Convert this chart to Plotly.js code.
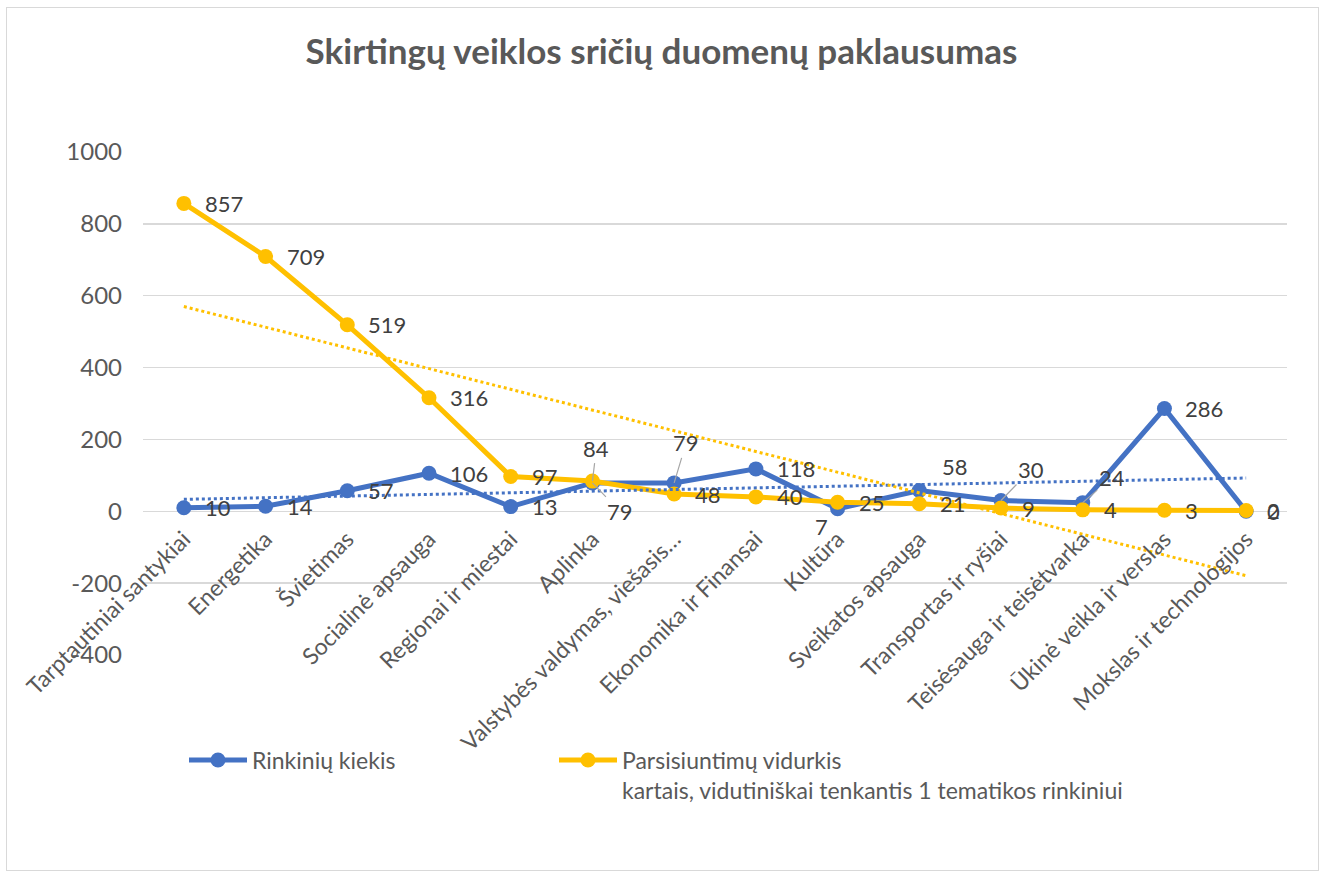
<!DOCTYPE html>
<html>
<head>
<meta charset="utf-8">
<script src="https://cdn.plot.ly/plotly-3.0.1.min.js"></script>
<style>
  html, body { margin: 0; padding: 0; background: #ffffff; }
  #wrap { position: relative; width: 1323px; height: 877px; }
  #chart { width: 1323px; height: 877px; }
  #frame { position: absolute; left: 6px; top: 7px; width: 1311px; height: 862px;
           border: 1px solid #d9d9d9; pointer-events: none; }
</style>
</head>
<body>
<div id="wrap"><div id="chart"></div><div id="frame"></div></div>
<script>
// ---- Data ----
const categories = [
  "Tarptautiniai santykiai", "Energetika", "Švietimas", "Socialinė apsauga",
  "Regionai ir miestai", "Aplinka", "Valstybės valdymas, viešasis…",
  "Ekonomika ir Finansai", "Kultūra", "Sveikatos apsauga",
  "Transportas ir ryšiai", "Teisėsauga ir teisėtvarka",
  "Ūkinė veikla ir verslas", "Mokslas ir technologijos"
];
const rinkiniuKiekis = [10, 14, 57, 106, 13, 79, 79, 118, 7, 58, 30, 24, 286, 0];
const parsisiuntimuVidurkis = [857, 709, 519, 316, 97, 84, 48, 40, 25, 21, 9, 4, 3, 2];
const yTickValues = [-400, -200, 0, 200, 400, 600, 800, 1000];

const seriesNames = [
  "Rinkinių kiekis",
  "Parsisiuntimų vidurkis<br>kartais, vidutiniškai tenkantis 1 tematikos rinkiniui"
];

// ---- Styles ----
const BLUE = "#4472C4", YELLOW = "#FFC000", TXT = "#595959", LBL = "#404040", GRID = "#d9d9d9";
const FONT = "Lato, 'Open Sans', sans-serif";

// Linear trend (least squares over category index)
function trend(vals) {
  const n = vals.length;
  let sx = 0, sy = 0, sxy = 0, sxx = 0;
  vals.forEach((v, i) => { sx += i; sy += v; sxy += i * v; sxx += i * i; });
  const b = (n * sxy - sx * sy) / (n * sxx - sx * sx);
  const a = (sy - b * sx) / n;
  return vals.map((_, i) => a + b * i);
}

const traces = [
  { x: categories, y: rinkiniuKiekis, name: seriesNames[0], type: "scatter", mode: "lines+markers",
    line: { color: BLUE, width: 5 }, marker: { color: BLUE, size: 15 }, cliponaxis: false,
    legend: "legend" },
  { x: categories, y: parsisiuntimuVidurkis, name: seriesNames[1], type: "scatter", mode: "lines+markers",
    line: { color: YELLOW, width: 5 }, marker: { color: YELLOW, size: 15 }, cliponaxis: false,
    legend: "legend2" },
  { x: categories, y: trend(rinkiniuKiekis), type: "scatter", mode: "lines", showlegend: false,
    line: { color: BLUE, width: 3, dash: "dot" }, hoverinfo: "skip" },
  { x: categories, y: trend(parsisiuntimuVidurkis), type: "scatter", mode: "lines", showlegend: false,
    line: { color: YELLOW, width: 3, dash: "dot" }, hoverinfo: "skip" }
];

// Label placement overrides (pixel offsets), by point index
const bluePlace = {
  5: { ax: 28, ay: 29, arrow: true },
  6: { ax: 12, ay: -40, arrow: true },
  8: { ax: -16, ay: 18, arrow: false },
  9: { ax: 36, ay: -24, arrow: false },
  10: { ax: 30, ay: -31, arrow: true },
  11: { ax: 29, ay: -25, arrow: true }
};
const yellowPlace = {
  5: { ax: 4, ay: -33, arrow: true }
};

function labels(vals, place) {
  return vals.map((v, i) => {
    const base = { x: categories[i], y: v, text: String(v), font: { family: FONT, size: 22, color: LBL } };
    const p = place[i];
    if (!p) {
      return Object.assign(base, { showarrow: false, xanchor: "left", yanchor: "middle", xshift: 19 });
    }
    if (p.arrow) {
      return Object.assign(base, { showarrow: true, ax: p.ax, ay: p.ay, arrowhead: 0,
        arrowwidth: 1.2, arrowcolor: "#a6a6a6", standoff: 0 });
    }
    return Object.assign(base, { showarrow: false, xanchor: "center", yanchor: "middle",
      xshift: p.ax, yshift: -p.ay });
  });
}

const legendBase = {
  orientation: "h", xanchor: "left", y: -0.166, yanchor: "top", valign: "top",
  font: { family: FONT, size: 23, color: TXT }, bgcolor: "rgba(0,0,0,0)", itemwidth: 58
};

const layout = {
  width: 1323, height: 877,
  paper_bgcolor: "#ffffff", plot_bgcolor: "#ffffff",
  margin: { l: 143, r: 36, t: 152, b: 222 },
  font: { family: FONT, color: TXT },
  title: { text: "<b>Skirtingų veiklos sričių duomenų paklausumas</b>",
    x: 0.5, xref: "container", xanchor: "center",
    y: 1 - 52 / 877, yref: "container", yanchor: "middle",
    font: { family: FONT, size: 35, color: TXT } },
  xaxis: { type: "category", range: [-0.5, categories.length - 0.5],
    anchor: "free", position: 400 / 1400,
    showgrid: false, showline: false, zeroline: false, ticks: "", ticklabelstandoff: 9,
    tickangle: -45, tickfont: { family: FONT, size: 23, color: TXT } },
  yaxis: { range: [-400, 1000], tickvals: yTickValues, ticktext: yTickValues.map(String),
    showgrid: true, gridcolor: GRID, gridwidth: 1.5, zeroline: false, showline: false,
    ticks: "", ticklabelstandoff: 20, tickfont: { family: FONT, size: 24, color: TXT } },
  legend: Object.assign({}, legendBase, { x: (184 - 143) / 1144 }),
  legend2: Object.assign({}, legendBase, { x: (554 - 143) / 1144 }),
  annotations: labels(rinkiniuKiekis, bluePlace).concat(labels(parsisiuntimuVidurkis, yellowPlace)),
  showlegend: true
};

Plotly.newPlot("chart", traces, layout, { displayModeBar: false, staticPlot: true });
</script>
</body>
</html>
